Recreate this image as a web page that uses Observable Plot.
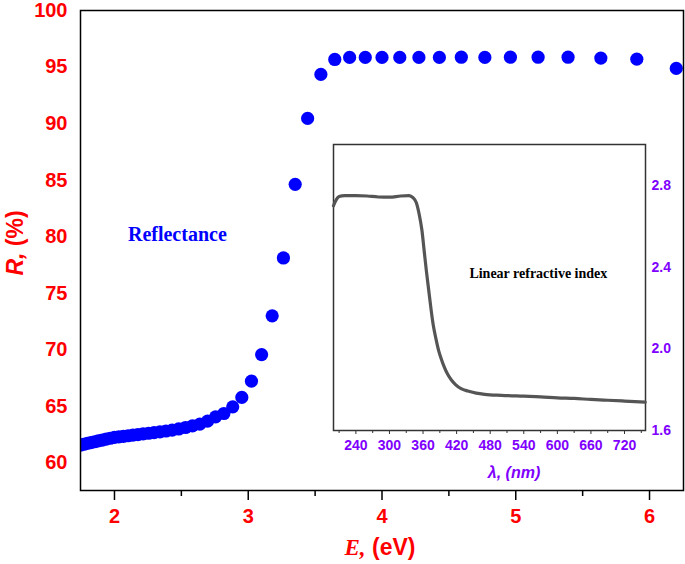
<!DOCTYPE html>
<html><head><meta charset="utf-8">
<script src="https://cdn.jsdelivr.net/npm/d3@7"></script>
<script src="https://cdn.jsdelivr.net/npm/@observablehq/plot@0.6"></script>
<style>
body{margin:0;background:#fff;}
#wrap{position:relative;width:685px;height:564px;overflow:hidden;}
#inset{position:absolute;left:300px;top:130px;}
</style></head><body><div id="wrap"><div id="main"></div><div id="inset"></div></div>
<script>
// Main chart: reflectance vs photon energy
const energyEV = [6.200,5.905,5.636,5.391,5.167,4.960,4.769,4.593,4.429,4.276,4.133,4.000,3.875,3.758,3.647,3.543,3.444,3.351,3.263,3.179,3.100,3.024,2.952,2.884,2.818,2.756,2.696,2.638,2.583,2.531,2.480,2.431,2.385,2.340,2.296,2.255,2.214,2.175,2.138,2.102,2.067,2.033,2.000,1.968,1.938,1.908,1.879,1.851,1.824,1.797,1.771,1.746,1.722];
const reflectance = [94.88,95.70,95.79,95.87,95.87,95.87,95.85,95.87,95.85,95.85,95.85,95.85,95.85,95.85,95.67,94.35,90.46,84.63,78.12,73.00,69.58,67.23,65.79,64.96,64.37,64.07,63.70,63.43,63.28,63.13,63.00,62.90,62.82,62.75,62.68,62.62,62.56,62.50,62.45,62.40,62.35,62.30,62.25,62.18,62.10,62.02,61.95,61.87,61.80,61.72,61.65,61.57,61.50];
const xTicks = [2,3,4,5,6];
const xMinorTicks = [2.5,3.5,4.5,5.5];
const yTicks = [60,65,70,75,80,85,90,95,100];

// Inset: linear refractive index vs wavelength
const wavelengthNM = [200,205,210,220,240,260,280,300,320,335,342,348,353,358,362,366,370,374,378,383,388,392,398,404,410,418,428,440,455,470,500,540,570,600,630,660,690,720,757];
const refractiveIndex = [2.70,2.73,2.745,2.75,2.75,2.748,2.743,2.742,2.748,2.75,2.74,2.715,2.66,2.58,2.48,2.38,2.29,2.20,2.12,2.05,1.99,1.955,1.91,1.875,1.85,1.825,1.805,1.793,1.783,1.777,1.772,1.768,1.765,1.760,1.757,1.752,1.748,1.744,1.739];
const insetXTicks = [240,300,360,420,480,540,600,660,720];
const insetXMinorTicks = [210,270,330,390,450,510,570,630,690,750];
const insetYTicks = [1.6,2.0,2.4,2.8];

const RED = "#ff0000", BLUE = "#0000ff", PURPLE = "#8000ff";
const SANS = "Liberation Sans, Arial, sans-serif";
const SERIF = "Liberation Serif, Times New Roman, serif";

const mainData = energyEV.map((e, i) => ({e, r: reflectance[i]}));
const main = Plot.plot({
  width: 685, height: 564,
  marginLeft: 80, marginTop: 10, marginRight: 2, marginBottom: 74,
  style: {fontFamily: SANS, background: "#fff", color: "#000", overflow: "visible"},
  x: {domain: [1.746, 6.254]},
  y: {domain: [57.56, 100]},
  marks: [
    Plot.dot(mainData, {x: "e", y: "r", r: 6.6, fill: BLUE, clip: true}),
    Plot.frame({stroke: "#000", strokeWidth: 1.5}),
    Plot.axisX(xTicks, {tickSize: 10, tickPadding: 8, fontSize: 20, fontWeight: "bold", fill: RED, stroke: "#000", strokeWidth: 1.5, tickFormat: d => String(d), label: null}),
    Plot.axisX(xMinorTicks, {tickSize: 6, tickFormat: () => "", stroke: "#000", strokeWidth: 1.5, label: null}),
    Plot.axisY(yTicks, {tickSize: 0, tickPadding: 13, fontSize: 20, fontWeight: "bold", fill: RED, tickFormat: d => String(d), label: null}),
    Plot.text(["Reflectance"], {x: 2.47, y: 80.2, text: d => d, fill: BLUE, fontSize: 20, fontWeight: "bold", fontFamily: SERIF})
  ]
});
document.getElementById("main").appendChild(main);

const ms = d3.select(main);
const xt = ms.append("text").attr("x", 380).attr("y", 555).attr("text-anchor", "middle")
  .attr("fill", RED).attr("font-size", 23).attr("font-weight", "bold");
xt.append("tspan").attr("font-family", SERIF).attr("font-style", "italic").text("E,");
xt.append("tspan").attr("font-family", SANS).text(" (eV)");
const yt = ms.append("text").attr("transform", "translate(23,243) rotate(-90)").attr("text-anchor", "middle")
  .attr("fill", RED).attr("font-size", 23).attr("font-weight", "bold").attr("font-family", SANS);
yt.append("tspan").attr("font-style", "italic").text("R,");
yt.append("tspan").text(" (%)");

const insetData = wavelengthNM.map((w, i) => ({w, n: refractiveIndex[i]}));
const inset = Plot.plot({
  width: 380, height: 355,
  marginLeft: 33, marginTop: 14, marginRight: 35, marginBottom: 55,
  style: {fontFamily: SANS, background: "transparent", color: "#000", overflow: "visible"},
  x: {domain: [200, 757.5]},
  y: {domain: [1.6, 3.0]},
  marks: [
    Plot.frame({stroke: "#333", strokeWidth: 1.5}),
    Plot.line(insetData, {x: "w", y: "n", stroke: "#555", strokeWidth: 3.2, curve: "monotone-x"}),
    Plot.axisX(insetXTicks, {tickSize: 4, tickPadding: 6, fontSize: 14, fontWeight: "bold", fill: PURPLE, stroke: "#333", tickFormat: d => String(d), label: null}),
    Plot.axisX(insetXMinorTicks, {tickSize: 3, tickFormat: () => "", stroke: "#333", label: null}),
    Plot.axisY(insetYTicks, {anchor: "right", tickSize: 0, tickPadding: 6, fontSize: 14, fontWeight: "bold", fill: PURPLE, tickFormat: d3.format(".1f"), label: null}),
    Plot.text(["Linear refractive index"], {x: 566, y: 2.37, text: d => d, fill: "#000", fontSize: 14, fontWeight: "bold", fontFamily: SERIF})
  ]
});
document.getElementById("inset").appendChild(inset);
d3.select(inset).append("text").attr("x", 214).attr("y", 348).attr("text-anchor", "middle")
  .attr("fill", PURPLE).attr("font-size", 16).attr("font-weight", "bold").attr("font-style", "italic")
  .attr("font-family", SANS).text("λ, (nm)");
</script></body></html>
